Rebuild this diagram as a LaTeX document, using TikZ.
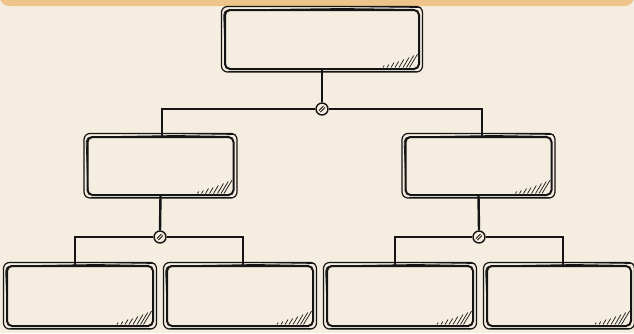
\documentclass[tikz,border=0pt]{standalone}
\usetikzlibrary{calc}
\definecolor{bgc}{HTML}{F5EDE0}
\definecolor{banner}{HTML}{EEC48B}
\definecolor{ink}{HTML}{151515}
\tikzset{
  sbox/.style={draw=ink, line width=2pt, rounded corners=5pt, inner sep=0pt, fill=bgc},
  trunk/.style={draw=ink, line width=2.4pt},
  branch/.style={draw=ink, line width=1.4pt},
  junc/.style={circle, draw=ink, line width=1.4pt, fill=bgc, minimum size=12pt, inner sep=0pt},
  hatch/.style={draw=ink, line width=0.7pt},
}
\newcommand{\sketchbox}[1]{%
  \draw[ink, line width=1.2pt, rounded corners=6pt]
    ($(#1.south west)+(-2.5,2)$) rectangle ($(#1.north east)+(2.5,-2.5)$);
  \draw[ink, line width=0.8pt, rounded corners=5pt]
    ($(#1.south west)+(1.5,-4)$) -- ($(#1.north west)+(-0.5,1)$) -- ($(#1.north east)+(1,-1.5)$);
  \draw[ink, line width=0.9pt]
    ($(#1.south west)+(4,1.2)$) -- ($(#1.south east)+(-2,1.2)$);
  \foreach \d/\l in {37/2,33/3,29/5,25/6,21/8,17/10,13.5/12,10.5/13.5}{
    \draw[hatch] ($(#1.south east)+(-\d,-2.5)$) -- ++(\l*0.6,-\l);
  }
}
\newcommand{\junchatch}[1]{%
  \draw[ink, line width=0.8pt] ($(#1)+(-3,1.5)$) -- ($(#1)+(1.5,-3)$);
  \draw[ink, line width=0.8pt] ($(#1)+(-1.5,3)$) -- ($(#1)+(3,-1.5)$);
}
\begin{document}
\begin{tikzpicture}[x=1pt,y=-1pt]
\useasboundingbox (0,0) rectangle (634,333);
\fill[bgc] (0,0) rectangle (634,333);
\fill[banner, rounded corners=9pt] (0,-20) rectangle (634,6);
% boxes
\node[sbox, minimum width=194pt, minimum height=59pt] (top) at (322,39.5) {};
\node[sbox, minimum width=146pt, minimum height=58pt] (ml) at (160.5,166) {};
\node[sbox, minimum width=146pt, minimum height=58pt] (mr) at (478.5,166) {};
\node[sbox, minimum width=146pt, minimum height=60pt] (b1) at (80,296) {};
\node[sbox, minimum width=146pt, minimum height=60pt] (b2) at (240,296) {};
\node[sbox, minimum width=146pt, minimum height=60pt] (b3) at (400,296) {};
\node[sbox, minimum width=144pt, minimum height=60pt] (b4) at (559,296) {};
% junctions
\node[junc] (j0) at (322,109) {};
\node[junc] (j1) at (160,237) {};
\node[junc] (j2) at (479,237) {};
% connectors
\draw[trunk] (top.south) -- (j0.north);
\draw[trunk] (ml.south) -- (j1.north);
\draw[trunk] (mr.south) -- (j2.north);
\draw[branch] (j0.west) -| ([xshift=1.5pt]ml.north);
\draw[branch] (j0.east) -| ([xshift=3.5pt]mr.north);
\draw[branch] (j1.west) -| ([xshift=-5pt]b1.north);
\draw[branch] (j1.east) -| ([xshift=3pt]b2.north);
\draw[branch] (j2.west) -| ([xshift=-5pt]b3.north);
\draw[branch] (j2.east) -| ([xshift=4pt]b4.north);
\foreach \n in {top,ml,mr,b1,b2,b3,b4}{\sketchbox{\n}}
\foreach \n in {j0,j1,j2}{\junchatch{\n}}
\end{tikzpicture}
\end{document}
